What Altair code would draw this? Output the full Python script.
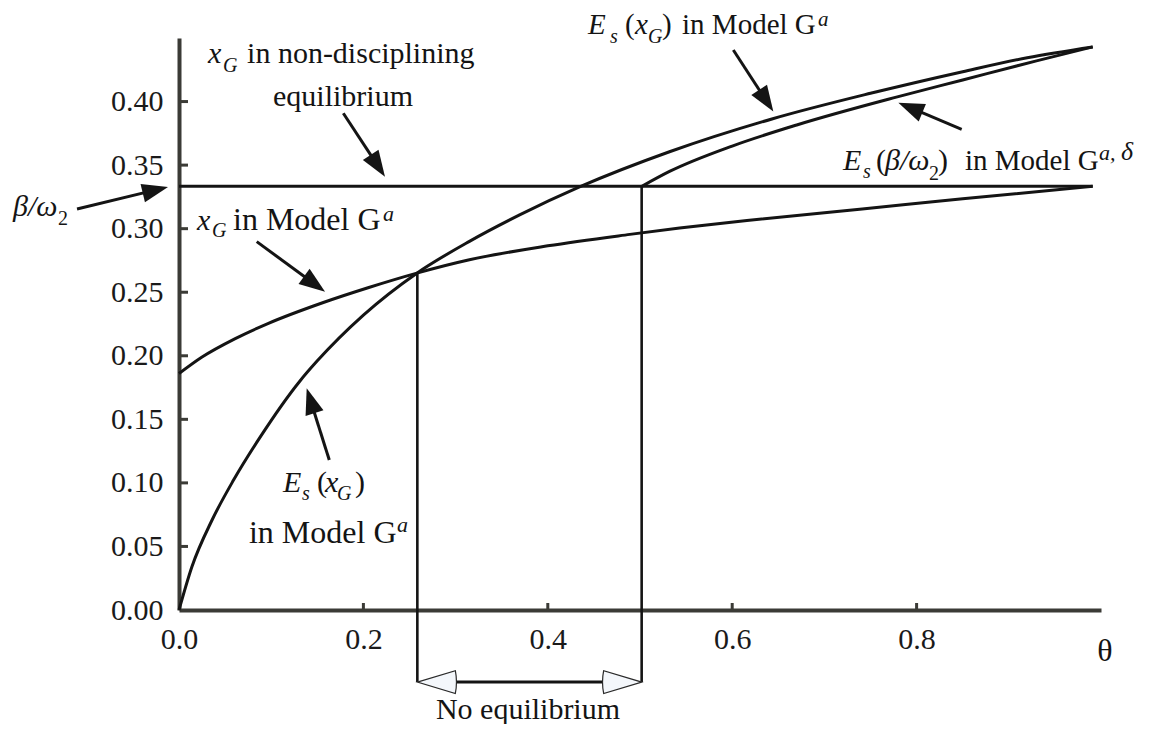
import math
import altair as alt
import pandas as pd

# ---------------- geometry of the plot area ----------------
W, H = 922, 572
XMAX, YMAX = 1.0, 0.45
PX = W / XMAX
PY = H / YMAX

# ---------------- data ----------------
# E_s(x_G) in Model G^a
theta_es = [0.0, 0.014, 0.036, 0.059, 0.088, 0.131, 0.150, 0.200, 0.258, 0.315, 0.370,
            0.435, 0.532, 0.644, 0.750, 0.850, 0.920, 0.991]
es_vals = [0.0, 0.034, 0.071, 0.102, 0.136, 0.180, 0.196, 0.232, 0.265, 0.290, 0.311,
           0.333, 0.3605, 0.3865, 0.4065, 0.4235, 0.4345, 0.443]

# x_G in Model G^a
theta_xg = [0.0, 0.025, 0.061, 0.097, 0.155, 0.205, 0.258, 0.315, 0.400, 0.489, 0.543,
            0.616, 0.741, 0.850, 0.991]
xg_vals = [0.186, 0.199, 0.2135, 0.2255, 0.2415, 0.2535, 0.265, 0.2755, 0.2865, 0.2955,
           0.3005, 0.3065, 0.3155, 0.3235, 0.3333]

# E_s(beta/omega_2) in Model G^{a,delta}
theta_esb = [0.502, 0.532, 0.600, 0.670, 0.778, 0.850, 0.930, 0.991]
esb_vals = [0.3333, 0.345, 0.365, 0.3816, 0.4035, 0.417, 0.432, 0.443]

# x_G in non-disciplining equilibrium = beta/omega_2
theta_flat = [0.0, 0.991]
flat_vals = [0.3333, 0.3333]

# vertical guide lines
vline_x = [0.2585, 0.5018]
vline_top = [0.265, 0.3333]
vline_bottom = -0.0567

# axes
ytick_vals = [0.00, 0.05, 0.10, 0.15, 0.20, 0.25, 0.30, 0.35, 0.40]
xtick_vals = [0.0, 0.2, 0.4, 0.6, 0.8]
ymark_vals = [0.05, 0.10, 0.15, 0.20, 0.25, 0.30, 0.35, 0.40]
xmark_vals = [0.2, 0.4, 0.6, 0.8]

# annotation arrows (tail -> tip), data units
arr_tail_x = [0.1782, -0.1106, 0.0843, 0.1630, 0.6012, 0.8489]
arr_tail_y = [0.3908, 0.3155, 0.2898, 0.1180, 0.4406, 0.3782]
arr_tip_x = [0.2234, -0.0119, 0.1584, 0.1385, 0.6446, 0.7802]
arr_tip_y = [0.3409, 0.3328, 0.2504, 0.1744, 0.3921, 0.3991]

# annotation text pieces
txt_text = ["x", "G", "in non-disciplining", "equilibrium",
            "x", "G", "in Model G", "a",
            "E", "s", "(", "x", "G", ")", "in Model G", "a",
            "E", "s", "(", "x", "G", ")", "in Model G", "a",
            "E", "s", "(", "β/ω", "2", ")", "in Model G", "a,", "δ",
            "β/ω", "2"]
txt_x = [0.0315, 0.0477, 0.0738, 0.1020,
         0.0195, 0.0358, 0.0586, 0.2213,
         0.1128, 0.1334, 0.1497, 0.1584, 0.1714, 0.1909, 0.0759, 0.2364,
         0.4436, 0.4675, 0.4837, 0.4946, 0.5087, 0.5239, 0.5456, 0.6931,
         0.7202, 0.7419, 0.7560, 0.7657, 0.8134, 0.8232, 0.8525, 0.9978, 1.0217,
         -0.1800, -0.1312]
txt_y = [0.4304, 0.4233, 0.4304, 0.3965,
         0.2990, 0.2935, 0.2990, 0.3060,
         0.0928, 0.0865, 0.0928, 0.0928, 0.0865, 0.0928, 0.0527, 0.0614,
         0.4532, 0.4461, 0.4532, 0.4532, 0.4461, 0.4532, 0.4532, 0.4595,
         0.3462, 0.3399, 0.3462, 0.3462, 0.3383, 0.3462, 0.3462, 0.3541, 0.3541,
         0.3100, 0.3029]
txt_size = [30, 20, 30, 30,
            30, 20, 32, 22,
            30, 20, 30, 30, 20, 30, 32, 22,
            29, 20, 29, 29, 20, 29, 29, 21,
            30, 20, 30, 30, 20, 30, 29, 22, 26,
            30, 20]
txt_italic = [1, 1, 0, 0,
              1, 1, 0, 1,
              1, 1, 0, 1, 1, 0, 0, 1,
              1, 1, 0, 1, 1, 0, 0, 1,
              1, 1, 0, 1, 0, 0, 0, 1, 1,
              1, 0]

ctr_text = ["No equilibrium", "θ"]
ctr_x = [0.3785, 1.0043]
ctr_y = [-0.0860, -0.0401]
ctr_size = [30, 32]

# ---------------- styles ----------------
FONT = "Liberation Serif"
INK = "#141414"
AXC = "#3b3b36"
HEAD = 26.0       # filled arrow head length, px
HOLLOW = 38.0     # hollow arrow head length, px

xs = alt.Scale(domain=[0, XMAX], nice=False, zero=False)
ys = alt.Scale(domain=[0, YMAX], nice=False, zero=False)
xax = alt.Axis(values=xtick_vals, format=".1f", title=None)
yax = alt.Axis(values=ytick_vals, format=".2f", title=None)

# ---------------- tables ----------------
rows = []
for name, tx, ty in [("es", theta_es, es_vals), ("xg", theta_xg, xg_vals),
                     ("esb", theta_esb, esb_vals), ("flat", theta_flat, flat_vals)]:
    for a, b in zip(tx, ty):
        rows.append({"series": name, "theta": a, "val": b})
curves = pd.DataFrame(rows)

vlines = pd.DataFrame({"x": vline_x, "y": vline_top, "y2": [vline_bottom] * len(vline_x)})

shaft_rows, head_rows = [], []
for tx, ty, hx, hy in zip(arr_tail_x, arr_tail_y, arr_tip_x, arr_tip_y):
    dx = (hx - tx) * PX
    dy = -(hy - ty) * PY
    L = math.hypot(dx, dy)
    ang = math.degrees(math.atan2(dx, -dy)) % 360
    f = 1 - (HEAD * 0.6) / L
    shaft_rows.append({"x": tx, "y": ty, "x2": tx + (hx - tx) * f, "y2": ty + (hy - ty) * f})
    head_rows.append({"x": hx, "y": hy, "angle": ang})
shafts = pd.DataFrame(shaft_rows)
heads = pd.DataFrame(head_rows)

ne_left = vline_x[0] + HOLLOW / PX
ne_right = vline_x[1] - HOLLOW / PX
ne_shaft = pd.DataFrame({"x": [ne_left], "x2": [ne_right], "y": [vline_bottom]})
ne_heads = pd.DataFrame({"x": vline_x, "y": [vline_bottom] * 2, "angle": [0, 180]})

texts = pd.DataFrame({"t": txt_text, "x": txt_x, "y": txt_y, "s": txt_size, "it": txt_italic})
ctexts = pd.DataFrame({"t": ctr_text, "x": ctr_x, "y": ctr_y, "s": ctr_size})

ytick_df = pd.DataFrame({"v": ymark_vals})
xtick_df = pd.DataFrame({"v": xmark_vals})


def X(f):
    return alt.X(f, scale=xs, axis=xax)


def Y(f):
    return alt.Y(f, scale=ys, axis=yax)


# ---------------- layers ----------------
lines = alt.Chart(curves).mark_line(color=INK, strokeWidth=3, interpolate="monotone").encode(
    x=X("theta:Q"), y=Y("val:Q"), detail="series:N")

vl = alt.Chart(vlines).mark_rule(color=INK, strokeWidth=2.6).encode(
    x=X("x:Q"), y=Y("y:Q"), y2="y2:Q")

ytk = alt.Chart(ytick_df).mark_rule(color=AXC, strokeWidth=3).encode(
    y=Y("v:Q"), x=alt.value(0), x2=alt.value(9))
xtk = alt.Chart(xtick_df).mark_rule(color=AXC, strokeWidth=3).encode(
    x=X("v:Q"), y=alt.value(H), y2=alt.value(H - 7))

sh = alt.Chart(shafts).mark_rule(color=INK, strokeWidth=3).encode(
    x=X("x:Q"), y=Y("y:Q"), x2="x2:Q", y2="y2:Q")

hd = alt.Chart(heads).mark_point(
    shape="M0,0 L0.72,2 L-0.72,2 Z", filled=True, fill=INK, strokeWidth=0,
    opacity=1, size=HEAD * HEAD).encode(
    x=X("x:Q"), y=Y("y:Q"), angle=alt.Angle("angle:Q", scale=None))

ne_sh = alt.Chart(ne_shaft).mark_rule(color=INK, strokeWidth=3).encode(
    x=X("x:Q"), x2="x2:Q", y=Y("y:Q"))

ne_hd = alt.Chart(ne_heads).mark_point(
    shape="M0,0 L2,-0.6 Q2.12,0 2,0.6 Z", filled=False, fill="#f4f7fb", stroke="#2a2a2a",
    strokeWidth=1.2, opacity=1, fillOpacity=1, size=HOLLOW * HOLLOW).encode(
    x=X("x:Q"), y=Y("y:Q"), angle=alt.Angle("angle:Q", scale=None))

t_norm = alt.Chart(texts).transform_filter("datum.it == 0").mark_text(
    align="left", baseline="alphabetic", font=FONT, color=INK).encode(
    x=X("x:Q"), y=Y("y:Q"), text="t:N", size=alt.Size("s:Q", scale=None))

t_ital = alt.Chart(texts).transform_filter("datum.it == 1").mark_text(
    align="left", baseline="alphabetic", font=FONT, fontStyle="italic", color=INK).encode(
    x=X("x:Q"), y=Y("y:Q"), text="t:N", size=alt.Size("s:Q", scale=None))

t_ctr = alt.Chart(ctexts).mark_text(
    align="center", baseline="alphabetic", font=FONT, color=INK).encode(
    x=X("x:Q"), y=Y("y:Q"), text="t:N", size=alt.Size("s:Q", scale=None))

chart = alt.layer(lines, vl, ytk, xtk, sh, hd, ne_sh, ne_hd, t_norm, t_ital, t_ctr).properties(
    width=W, height=H,
    padding={"left": 171, "top": 30, "right": 44, "bottom": 114},
    autosize=alt.AutoSizeParams(type="none"),
).configure_view(stroke=None).configure_axis(
    grid=False, ticks=False, tickSize=0, domainColor=AXC, domainWidth=4,
    labelFont=FONT, labelFontSize=30, labelColor="#1a1a1a", labelFlush=False,
    labelOverlap=False,
).configure_axisX(labelPadding=14).configure_axisY(labelPadding=16)

chart.save("out.html", embed_options={"renderer": "svg", "actions": False})
